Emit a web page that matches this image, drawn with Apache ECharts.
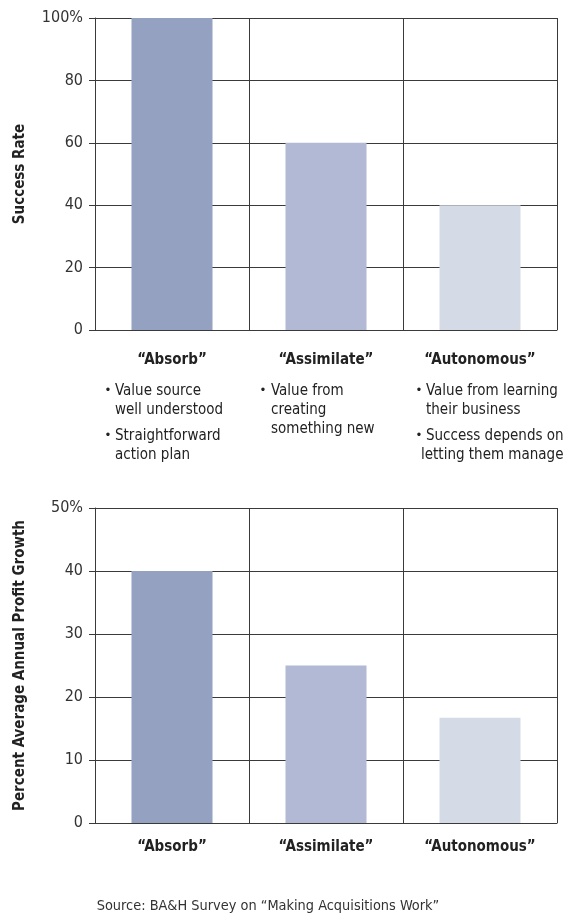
<!DOCTYPE html>
<html>
<head>
<meta charset="utf-8">
<script src="https://cdn.jsdelivr.net/npm/echarts@6/dist/echarts.min.js"></script>
<style>
  html, body { margin: 0; padding: 0; background: #fff; }
  #chart { width: 569px; height: 913px; }
</style>
</head>
<body>
<div id="chart"></div>
<script>
// Integration approaches and their outcomes
const categories = ['Absorb', 'Assimilate', 'Autonomous'];
const successRate = [100, 60, 40];          // percent of deals that succeed
const profitGrowth = [40, 25, 16.7];        // percent average annual profit growth
const barColors = ['#94a1c1', '#b2b9d4', '#d5dbe6'];

// Notes under each approach (each entry is one bullet, split into lines)
const notesAbsorb = [['Value source', 'well understood'], ['Straightforward', 'action plan']];
const notesAssimilate = [['Value from', 'creating', 'something new']];
const notesAutonomous = [['Value from learning', 'their business'], ['Success depends on', 'letting them manage']];

const sourceNote = 'Source: BA&H Survey on \u201CMaking Acquisitions Work\u201D';

const FONT = '"Liberation Sans Narrow", "DejaVu Sans Condensed", "Liberation Sans", sans-serif';
const INK = '#222';
const LINE = '#3a3a3a';

const chart = echarts.init(document.getElementById('chart'), null, { renderer: 'canvas' });

function catAxis(gridIndex, margin) {
  return {
    type: 'category',
    gridIndex,
    data: categories,
    boundaryGap: true,
    z: 5,
    axisLine: { show: true, lineStyle: { color: LINE, width: 1 } },
    axisTick: { show: false },
    axisLabel: {
      margin,
      interval: 0,
      fontFamily: FONT,
      fontSize: 15,
      fontWeight: 'bold',
      color: INK,
      formatter: v => '\u201C' + v + '\u201D'
    },
    splitLine: { show: true, interval: 0, lineStyle: { color: LINE, width: 1 } }
  };
}

function valAxis(gridIndex, max, interval, name, nameGap) {
  return {
    type: 'value',
    gridIndex,
    min: 0,
    max,
    interval,
    name,
    nameLocation: 'middle',
    nameGap,
    nameTextStyle: { fontFamily: FONT, fontSize: 15, fontWeight: 'bold', color: INK },
    axisLine: { show: true, lineStyle: { color: LINE, width: 1 } },
    axisTick: { show: true, length: 6, lineStyle: { color: LINE, width: 1 } },
    axisLabel: {
      margin: 12,
      fontFamily: FONT,
      fontSize: 16,
      color: '#333',
      formatter: v => (v === max ? v + '%' : String(v))
    },
    splitLine: { show: true, lineStyle: { color: LINE, width: 1 } }
  };
}

function barSeries(axisIndex, values) {
  return {
    type: 'bar',
    xAxisIndex: axisIndex,
    yAxisIndex: axisIndex,
    barWidth: 81,
    silent: true,
    data: values.map((v, i) => ({ value: v, itemStyle: { color: barColors[i] } }))
  };
}

// Bullet notes: a small dot followed by left-aligned lines
function noteBlock(notes, bulletX, textX, firstLineY, shifts) {
  const els = [];
  let y = firstLineY;
  notes.forEach((lines, bi) => {
    els.push({
      type: 'text', x: bulletX, y: y,
      style: { text: '\u2022', fontFamily: FONT, fontSize: 13, fill: INK,
               align: 'center', verticalAlign: 'middle' }
    });
    lines.forEach((ln, li) => {
      const dx = (shifts && shifts[bi] && shifts[bi][li]) || 0;
      els.push({
        type: 'text', x: textX + dx, y: y + li * 19,
        style: { text: ln, fontFamily: FONT, fontSize: 15, fill: INK,
                 align: 'left', verticalAlign: 'middle' }
      });
    });
    y += (lines.length - 1) * 19 + 26;
  });
  return els;
}

const graphics = []
  .concat(noteBlock(notesAbsorb, 108, 115, 391))
  .concat(noteBlock(notesAssimilate, 263, 271, 391))
  .concat(noteBlock(notesAutonomous, 419, 426, 391, [[0, 0], [0, -5]]))
  .concat([{
    type: 'text', x: 268, y: 906,
    style: { text: sourceNote, fontFamily: FONT, fontSize: 14.4, fill: '#333',
             align: 'center', verticalAlign: 'middle' }
  }]);

chart.setOption({
  animation: false,
  backgroundColor: '#fff',
  grid: [
    { left: 95, top: 18, width: 462, height: 312, containLabel: false },
    { left: 95, top: 508, width: 462, height: 315, containLabel: false }
  ],
  xAxis: [catAxis(0, 23), catAxis(1, 17)],
  yAxis: [
    valAxis(0, 100, 20, 'Success Rate', 67),
    valAxis(1, 50, 10, 'Percent Average Annual Profit Growth', 67)
  ],
  series: [barSeries(0, successRate), barSeries(1, profitGrowth)],
  graphic: graphics
});
</script>
</body>
</html>
